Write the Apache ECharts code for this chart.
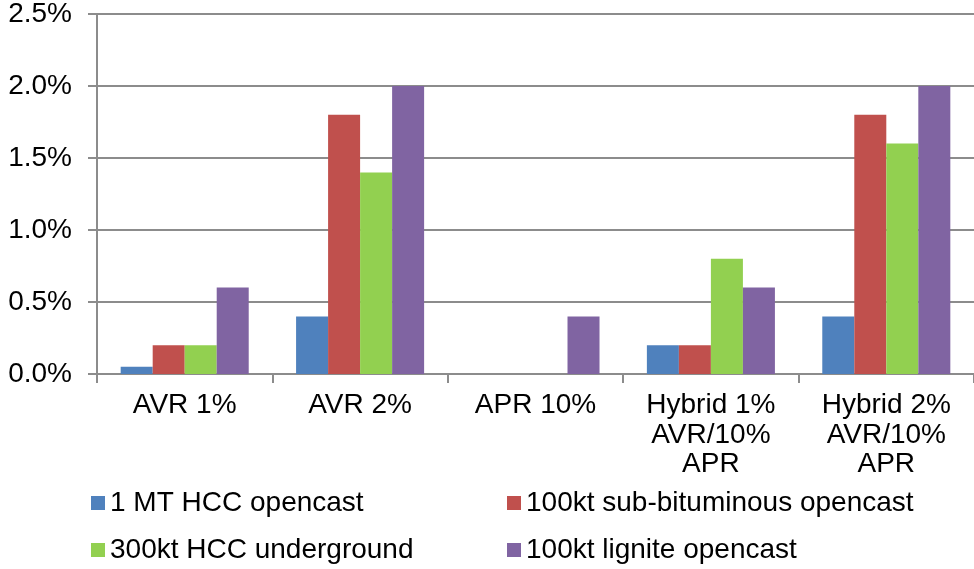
<!DOCTYPE html>
<html>
<head>
<meta charset="utf-8">
<script src="https://cdn.jsdelivr.net/npm/echarts@6/dist/echarts.min.js"></script>
<style>
  html, body { margin: 0; padding: 0; background: #fff; }
  #chart { width: 974px; height: 569px; }
</style>
</head>
<body>
<div id="chart"></div>
<script>
// Scenario categories along the x axis
const categories = ['AVR 1%', 'AVR 2%', 'APR 10%', 'Hybrid 1%\nAVR/10%\nAPR', 'Hybrid 2%\nAVR/10%\nAPR'];

// Series names
const seriesNames = ['1 MT HCC opencast', '100kt sub-bituminous opencast', '300kt HCC underground', '100kt lignite opencast'];

// Values in percent
const hccOpencast = [0.05, 0.4, 0, 0.2, 0.4];
const subBituminous = [0.2, 1.8, -0.02, 0.2, 1.8];
const hccUnderground = [0.2, 1.4, 0, 0.8, 1.6];
const ligniteOpencast = [0.6, 2.0, 0.4, 0.6, 2.0];

const seriesValues = [hccOpencast, subBituminous, hccUnderground, ligniteOpencast];
const colors = ['#4f81bd', '#c0504d', '#92d050', '#8064a2'];

const chart = echarts.init(document.getElementById('chart'));
const font = 'Liberation Sans, Arial, sans-serif';
const gridColor = '#8c8c8c';
const fontSize = 28;

// Legend laid out as a 2x2 block: one legend component per entry
const legendSpots = [
  { left: 91, top: 489 },
  { left: 507, top: 489 },
  { left: 91, top: 536 },
  { left: 507, top: 536 }
];

chart.setOption({
  animation: false,
  backgroundColor: '#fff',
  grid: { left: 97, right: 0, top: 14, bottom: 195, containLabel: false },
  legend: seriesNames.map((name, i) => ({
    data: [name],
    left: legendSpots[i].left,
    top: legendSpots[i].top,
    padding: 0,
    itemWidth: 14, itemHeight: 14,
    icon: 'rect',
    textStyle: { fontFamily: font, fontSize: fontSize, color: '#000', lineHeight: 28 }
  })),
  xAxis: {
    type: 'category',
    data: categories,
    axisLine: { lineStyle: { color: gridColor, width: 2 } },
    axisTick: { show: true, length: 9, lineStyle: { color: gridColor, width: 2 } },
    axisLabel: {
      interval: 0,
      margin: 17,
      fontFamily: font,
      fontSize: fontSize,
      color: '#000',
      lineHeight: 29.5
    }
  },
  yAxis: {
    type: 'value',
    min: 0, max: 2.5, interval: 0.5,
    axisLine: { show: true, lineStyle: { color: gridColor, width: 2 } },
    axisTick: { show: true, length: 9, lineStyle: { color: gridColor, width: 2 } },
    splitLine: { lineStyle: { color: gridColor, width: 2 } },
    axisLabel: {
      margin: 25,
      fontFamily: font,
      fontSize: fontSize,
      color: '#000',
      formatter: v => v.toFixed(1) + '%'
    }
  },
  series: seriesNames.map((name, i) => ({
    name,
    type: 'bar',
    data: seriesValues[i],
    barGap: '0%',
    barCategoryGap: '27%',
    itemStyle: { color: colors[i] }
  }))
});
</script>
</body>
</html>
